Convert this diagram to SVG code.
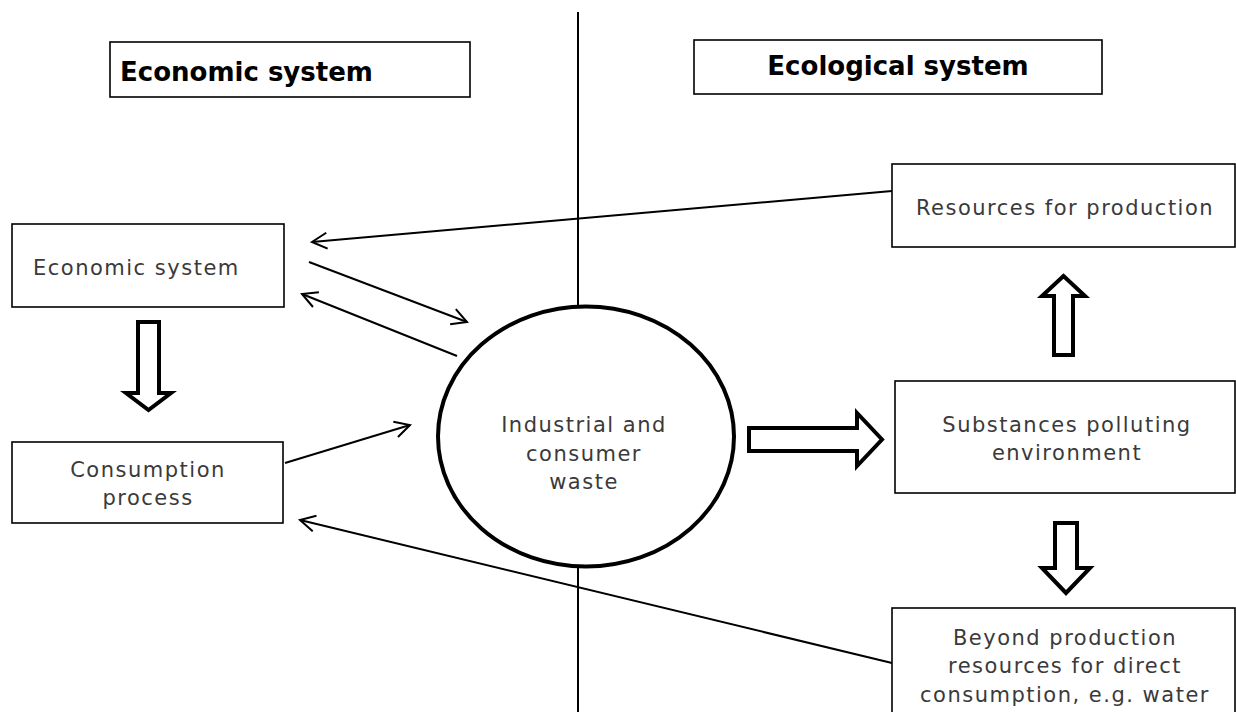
<svg xmlns="http://www.w3.org/2000/svg" width="1236" height="712" viewBox="0 0 1236 712">
<style>
.box{fill:#fff;stroke:#000;stroke-width:1.6}
.hd{font-family:"DejaVu Sans",Verdana,sans-serif;font-weight:bold;font-size:26px;fill:#000}
.tx{font-family:"DejaVu Sans",Verdana,sans-serif;font-weight:normal;font-size:21px;letter-spacing:1.5px;fill:#3a3a3a}
.mid{text-anchor:middle}
.con{stroke:#000;stroke-width:2;fill:none}
.blk{fill:#fff;stroke:#000;stroke-width:4;stroke-linejoin:miter}
</style>
<defs>
<marker id="ah" markerUnits="userSpaceOnUse" markerWidth="30" markerHeight="30" viewBox="-20 -15 30 30" refX="0" refY="0" orient="auto">
<path d="M-15,-8 L0,0 L-15,8" fill="none" stroke="#000" stroke-width="2"/>
</marker>
</defs>
<rect width="1236" height="712" fill="#fff"/>
<line x1="578" y1="12" x2="578" y2="712" stroke="#000" stroke-width="2"/>
<g id="connectors">
<line class="con" x1="892" y1="191" x2="312" y2="242" marker-end="url(#ah)"/>
<line class="con" x1="309" y1="262" x2="467" y2="322" marker-end="url(#ah)"/>
<line class="con" x1="457" y1="356" x2="302" y2="294" marker-end="url(#ah)"/>
<line class="con" x1="285" y1="463" x2="410" y2="425" marker-end="url(#ah)"/>
<line class="con" x1="892" y1="663" x2="300" y2="520" marker-end="url(#ah)"/>
<polygon class="blk" points="138,322 159,322 159,393 171,393 148.5,410 126,393 138,393"/>
<polygon class="blk" points="749,428 857,428 857,413 882,439.5 857,466 857,451 749,451"/>
<polygon class="blk" points="1054,355 1054,296 1042,296 1063.5,276 1085,296 1073,296 1073,355"/>
<polygon class="blk" points="1055,523 1077,523 1077,568 1090,568 1066,593 1042,568 1055,568"/>
</g>
<g id="header-economic">
<rect class="box" x="110" y="42" width="360" height="55"/>
<text class="hd" x="120" y="81">Economic system</text>
</g>
<g id="header-ecological">
<rect class="box" x="694" y="40" width="408" height="54"/>
<text class="hd mid" x="898" y="75">Ecological system</text>
</g>
<g id="economic-system">
<rect class="box" x="12" y="224" width="272" height="83"/>
<text class="tx" x="33" y="275">Economic system</text>
</g>
<g id="consumption-process">
<rect class="box" x="12" y="442" width="271" height="81"/>
<text class="tx mid" x="148" y="477">Consumption</text>
<text class="tx mid" x="148" y="505">process</text>
</g>
<g id="waste">
<ellipse cx="586" cy="436.5" rx="148" ry="130" fill="#fff" stroke="#000" stroke-width="4"/>
<text class="tx mid" x="584" y="432">Industrial and</text>
<text class="tx mid" x="584" y="461">consumer</text>
<text class="tx mid" x="584" y="489">waste</text>
</g>
<g id="resources">
<rect class="box" x="892" y="164" width="343" height="83"/>
<text class="tx mid" x="1065" y="215">Resources for production</text>
</g>
<g id="substances">
<rect class="box" x="895" y="381" width="340" height="112"/>
<text class="tx mid" x="1067" y="432">Substances polluting</text>
<text class="tx mid" x="1067" y="460">environment</text>
</g>
<g id="beyond">
<rect class="box" x="892" y="608" width="343" height="110"/>
<text class="tx mid" x="1065" y="645">Beyond production</text>
<text class="tx mid" x="1065" y="673">resources for direct</text>
<text class="tx mid" x="1065" y="702">consumption, e.g. water</text>
</g>
</svg>
